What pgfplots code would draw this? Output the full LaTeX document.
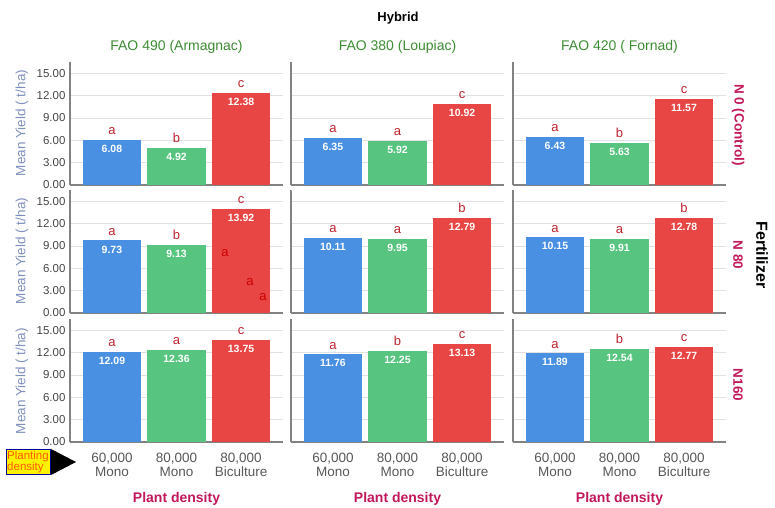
\documentclass[border=0pt]{standalone}
\usepackage{fontspec}
\setmainfont{Liberation Sans}
\usepackage{pgfplots}
\pgfplotsset{compat=1.18}
\definecolor{barblue}{RGB}{74,144,226}
\definecolor{bargreen}{RGB}{87,196,128}
\definecolor{barred}{RGB}{232,69,69}
\definecolor{lettred}{RGB}{190,35,45}
\definecolor{crimson}{RGB}{194,24,91}
\definecolor{titgreen}{RGB}{60,140,50}
\definecolor{ylab}{RGB}{128,144,190}
\definecolor{tickgray}{RGB}{70,70,70}
\definecolor{gridgray}{RGB}{225,225,225}
\definecolor{axgray}{RGB}{130,130,130}
\pgfplotsset{
  panel/.style={
    anchor=south west, scale only axis, width=213pt, height=123pt,
    xmin=-0.65, xmax=2.65, ymin=0, ymax=16.5,
    ytick={0,3,...,15}, xtick={0,1,2},
    ymajorgrids, major grid style={gridgray, line width=0.8pt},
    axis x line*=bottom, axis y line*=left,
    axis line style={axgray, line width=1.1pt, -},
    major tick length=0pt, clip=false,
    /pgf/number format/assume math mode=true,
    yticklabel={\pgfmathprintnumber[fixed,fixed zerofill,precision=2]{\tick}},
    yticklabel style={font=\fontsize{11.5}{13}\selectfont, text=tickgray, xshift=-1pt},
    xticklabel style={font=\fontsize{13.5}{14}\selectfont, text=tickgray!90, align=center, yshift=-8pt},
    xticklabels={},
    every axis plot/.append style={ybar, bar width=0.9, bar shift=0pt, draw=none},
  },
  noy/.style={yticklabels={}},
  botx/.style={xticklabels={{60,000\\Mono},{80,000\\Mono},{80,000\\Biculture}}},
}
\tikzset{
  lt/.style={text=lettred, font=\fontsize{13}{14}\selectfont, anchor=south, yshift=4pt, inner sep=1pt},
  vl/.style={text=white, font=\bfseries\fontsize{10.5}{12}\selectfont, anchor=north, yshift=-4pt, inner sep=1pt},
}
\begin{document}
\begin{tikzpicture}
\path[use as bounding box] (0pt,0pt) rectangle (775pt,507pt);
% ---------- Row 1: N 0 (Control)
\begin{axis}[panel, at={(70pt,322pt)}]
\addplot[fill=barblue] coordinates {(0,6.08)};
\addplot[fill=bargreen] coordinates {(1,4.92)};
\addplot[fill=barred] coordinates {(2,12.38)};
\node[lt] at (axis cs:0,6.08) {a}; \node[lt] at (axis cs:1,4.92) {b}; \node[lt] at (axis cs:2,12.38) {c};
\node[vl] at (axis cs:0,6.08) {6.08}; \node[vl] at (axis cs:1,4.92) {4.92}; \node[vl] at (axis cs:2,12.38) {12.38};
\end{axis}
\begin{axis}[panel, noy, at={(291pt,322pt)}]
\addplot[fill=barblue] coordinates {(0,6.35)};
\addplot[fill=bargreen] coordinates {(1,5.92)};
\addplot[fill=barred] coordinates {(2,10.92)};
\node[lt] at (axis cs:0,6.35) {a}; \node[lt] at (axis cs:1,5.92) {a}; \node[lt] at (axis cs:2,10.92) {c};
\node[vl] at (axis cs:0,6.35) {6.35}; \node[vl] at (axis cs:1,5.92) {5.92}; \node[vl] at (axis cs:2,10.92) {10.92};
\end{axis}
\begin{axis}[panel, noy, at={(513pt,322pt)}]
\addplot[fill=barblue] coordinates {(0,6.43)};
\addplot[fill=bargreen] coordinates {(1,5.63)};
\addplot[fill=barred] coordinates {(2,11.57)};
\node[lt] at (axis cs:0,6.43) {a}; \node[lt] at (axis cs:1,5.63) {b}; \node[lt] at (axis cs:2,11.57) {c};
\node[vl] at (axis cs:0,6.43) {6.43}; \node[vl] at (axis cs:1,5.63) {5.63}; \node[vl] at (axis cs:2,11.57) {11.57};
\end{axis}
% ---------- Row 2: N 80
\begin{axis}[panel, at={(70pt,194pt)}]
\addplot[fill=barblue] coordinates {(0,9.73)};
\addplot[fill=bargreen] coordinates {(1,9.13)};
\addplot[fill=barred] coordinates {(2,13.92)};
\node[lt] at (axis cs:0,9.73) {a}; \node[lt] at (axis cs:1,9.13) {b}; \node[lt] at (axis cs:2,13.92) {c};
\node[vl] at (axis cs:0,9.73) {9.73}; \node[vl] at (axis cs:1,9.13) {9.13}; \node[vl] at (axis cs:2,13.92) {13.92};
\node[text=red!80!black, font=\fontsize{13}{14}\selectfont] at (axis cs:1.75,8.0) {a};
\node[text=red!80!black, font=\fontsize{13}{14}\selectfont] at (axis cs:2.14,4.1) {a};
\node[text=red!80!black, font=\fontsize{13}{14}\selectfont] at (axis cs:2.34,2.2) {a};
\end{axis}
\begin{axis}[panel, noy, at={(291pt,194pt)}]
\addplot[fill=barblue] coordinates {(0,10.11)};
\addplot[fill=bargreen] coordinates {(1,9.95)};
\addplot[fill=barred] coordinates {(2,12.79)};
\node[lt] at (axis cs:0,10.11) {a}; \node[lt] at (axis cs:1,9.95) {a}; \node[lt] at (axis cs:2,12.79) {b};
\node[vl] at (axis cs:0,10.11) {10.11}; \node[vl] at (axis cs:1,9.95) {9.95}; \node[vl] at (axis cs:2,12.79) {12.79};
\end{axis}
\begin{axis}[panel, noy, at={(513pt,194pt)}]
\addplot[fill=barblue] coordinates {(0,10.15)};
\addplot[fill=bargreen] coordinates {(1,9.91)};
\addplot[fill=barred] coordinates {(2,12.78)};
\node[lt] at (axis cs:0,10.15) {a}; \node[lt] at (axis cs:1,9.91) {a}; \node[lt] at (axis cs:2,12.78) {b};
\node[vl] at (axis cs:0,10.15) {10.15}; \node[vl] at (axis cs:1,9.91) {9.91}; \node[vl] at (axis cs:2,12.78) {12.78};
\end{axis}
% ---------- Row 3: N160
\begin{axis}[panel, botx, at={(70pt,65pt)}]
\addplot[fill=barblue] coordinates {(0,12.09)};
\addplot[fill=bargreen] coordinates {(1,12.36)};
\addplot[fill=barred] coordinates {(2,13.75)};
\node[lt] at (axis cs:0,12.09) {a}; \node[lt] at (axis cs:1,12.36) {a}; \node[lt] at (axis cs:2,13.75) {c};
\node[vl] at (axis cs:0,12.09) {12.09}; \node[vl] at (axis cs:1,12.36) {12.36}; \node[vl] at (axis cs:2,13.75) {13.75};
\end{axis}
\begin{axis}[panel, noy, botx, at={(291pt,65pt)}]
\addplot[fill=barblue] coordinates {(0,11.76)};
\addplot[fill=bargreen] coordinates {(1,12.25)};
\addplot[fill=barred] coordinates {(2,13.13)};
\node[lt] at (axis cs:0,11.76) {a}; \node[lt] at (axis cs:1,12.25) {b}; \node[lt] at (axis cs:2,13.13) {c};
\node[vl] at (axis cs:0,11.76) {11.76}; \node[vl] at (axis cs:1,12.25) {12.25}; \node[vl] at (axis cs:2,13.13) {13.13};
\end{axis}
\begin{axis}[panel, noy, botx, at={(513pt,65pt)}]
\addplot[fill=barblue] coordinates {(0,11.89)};
\addplot[fill=bargreen] coordinates {(1,12.54)};
\addplot[fill=barred] coordinates {(2,12.77)};
\node[lt] at (axis cs:0,11.89) {a}; \node[lt] at (axis cs:1,12.54) {b}; \node[lt] at (axis cs:2,12.77) {c};
\node[vl] at (axis cs:0,11.89) {11.89}; \node[vl] at (axis cs:1,12.54) {12.54}; \node[vl] at (axis cs:2,12.77) {12.77};
\end{axis}
% ---------- Titles and labels
\node[font=\bfseries\fontsize{13}{15}\selectfont] at (398pt,489pt) {Hybrid};
\foreach \cx/\t in {176.5/{FAO 490 (Armagnac)}, 397.5/{FAO 380 (Loupiac)}, 619.5/{FAO 420 ( Fornad)}}{
  \node[text=titgreen, font=\fontsize{14}{16}\selectfont] at (\cx pt,460pt) {\t};
  \node[text=crimson, font=\bfseries\fontsize{14}{16}\selectfont] at (\cx pt,8pt) {Plant density};
}
\foreach \cy in {384,256,126}{
  \node[text=ylab, rotate=90, font=\fontsize{13.5}{15}\selectfont] at (22pt,\cy pt) {Mean Yield ( t/ha)};
}
\node[text=crimson, rotate=-90, font=\bfseries\fontsize{13.5}{16}\selectfont] at (738pt,382pt) {N 0 (Control)};
\node[text=crimson, rotate=-90, font=\bfseries\fontsize{13.5}{16}\selectfont] at (738pt,252pt) {N 80};
\node[text=crimson, rotate=-90, font=\bfseries\fontsize{13.5}{16}\selectfont] at (738pt,122pt) {N160};
\node[rotate=-90, font=\bfseries\fontsize{16}{18}\selectfont] at (762pt,252pt) {Fertilizer};
% Planting density marker
\node[fill=yellow, draw=blue!60!black, line width=0.4pt, inner sep=1pt, align=left,
      text=orange!70!red, font=\fontsize{11.5}{11.5}\selectfont, minimum width=41pt, minimum height=25pt] at (28pt,45pt) {Planting\\density};
\fill[black] (51pt,58pt) -- (76pt,45pt) -- (51pt,32pt) -- cycle;
\end{tikzpicture}
\end{document}
